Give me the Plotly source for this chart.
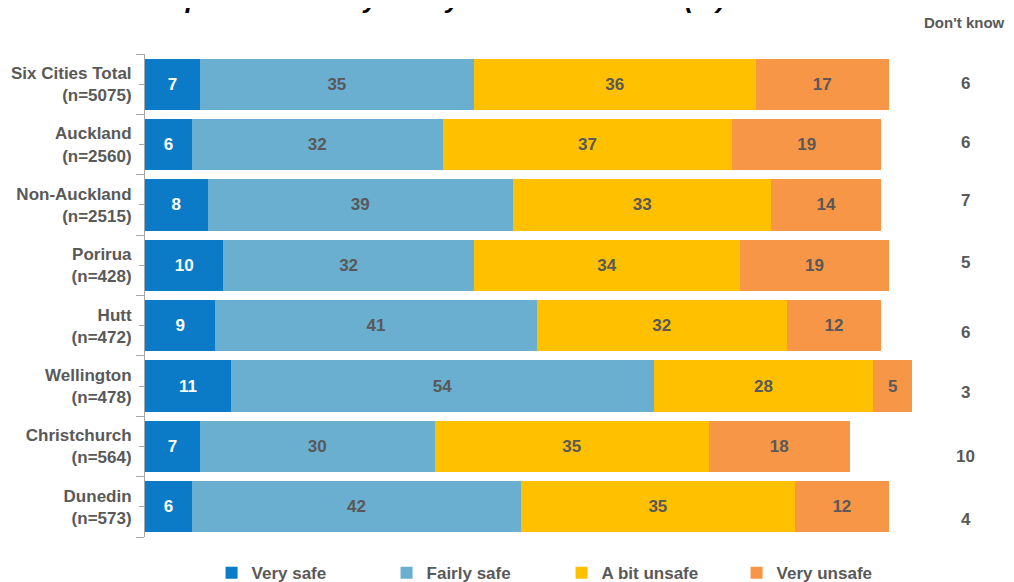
import plotly.graph_objects as go

categories = ["Six Cities Total<br>(n=5075)", "Auckland<br>(n=2560)", "Non-Auckland<br>(n=2515)",
              "Porirua<br>(n=428)", "Hutt<br>(n=472)", "Wellington<br>(n=478)",
              "Christchurch<br>(n=564)", "Dunedin<br>(n=573)"]
very_safe = [7, 6, 8, 10, 9, 11, 7, 6]
fairly_safe = [35, 32, 39, 32, 41, 54, 30, 42]
bit_unsafe = [36, 37, 33, 34, 32, 28, 35, 35]
very_unsafe = [17, 19, 14, 19, 12, 5, 18, 12]
dont_know = [6, 6, 7, 5, 6, 3, 10, 4]
series_names = ["Very safe", "Fairly safe", "A bit unsafe", "Very unsafe"]

colors = ["#0B7BC8", "#6AAFD0", "#FFC000", "#F79646"]
text_colors = ["white", "#595959", "#595959", "#595959"]
dk_shift = [1, 2, 4, 3, -7, -6, -10, -13]

ypos = list(range(len(categories)))
FONT = "Liberation Sans"

fig = go.Figure()
for name, vals, col, tc in zip(series_names, [very_safe, fairly_safe, bit_unsafe, very_unsafe], colors, text_colors):
    fig.add_trace(go.Bar(
        y=ypos, x=vals, name=name, orientation="h",
        marker=dict(color=col, line=dict(width=0)),
        text=vals, textposition="inside", insidetextanchor="middle", textangle=0,
        constraintext="none",
        textfont=dict(family=FONT, size=17, color=tc, weight="bold"),
        hoverinfo="skip",
    ))

for i, v in enumerate(dont_know):
    fig.add_annotation(x=1.0485, xref="paper", y=ypos[i], yref="y", text=f"<b>{v}</b>",
                       showarrow=False, xanchor="center", yshift=dk_shift[i],
                       font=dict(family=FONT, size=17, color="#595959"))

fig.add_annotation(x=1.047, xref="paper", y=1.0, yref="paper", yshift=32, text="<b>Don't know</b>",
                   showarrow=False, xanchor="center", yanchor="middle",
                   font=dict(family=FONT, size=15, color="#595959"))

fig.add_annotation(x=0.351, xref="paper", y=1.0, yref="paper", yshift=38,
                   text="<b><i>Perceptions of safety in city centre After Dark (%)</i></b>",
                   showarrow=False, xanchor="center", yanchor="bottom",
                   font=dict(family=FONT, size=26, color="black"))

fig.update_layout(
    barmode="stack", bargap=0.15,
    width=1006, height=574,
    margin=dict(l=137, r=86, t=46, b=45, autoexpand=False),
    paper_bgcolor="white", plot_bgcolor="white",
    showlegend=True,
    legend=dict(orientation="h", x=0.085, xanchor="left", y=-0.075, yanchor="middle",
                font=dict(family=FONT, size=17, color="#595959", weight="bold"),
                entrywidth=130, entrywidthmode="pixels", itemwidth=30,
                traceorder="normal"),
    xaxis=dict(range=[0, 100], visible=False, fixedrange=True),
    yaxis=dict(range=[7.5, -0.5], tickvals=ypos, ticktext=[f"<b>{c}</b>" for c in categories],
               tickfont=dict(family=FONT, size=17, color="#595959"),
               showline=True, linecolor="#A6A6A6", linewidth=1, showgrid=False, zeroline=False,
               ticks="outside", ticklen=5, tickcolor="#A6A6A6", ticklabelstandoff=4,
               minor=dict(tick0=0.5, dtick=1, ticks="outside", ticklen=8, tickcolor="#A6A6A6"),
               fixedrange=True),
)

fig.write_html("out.html")
